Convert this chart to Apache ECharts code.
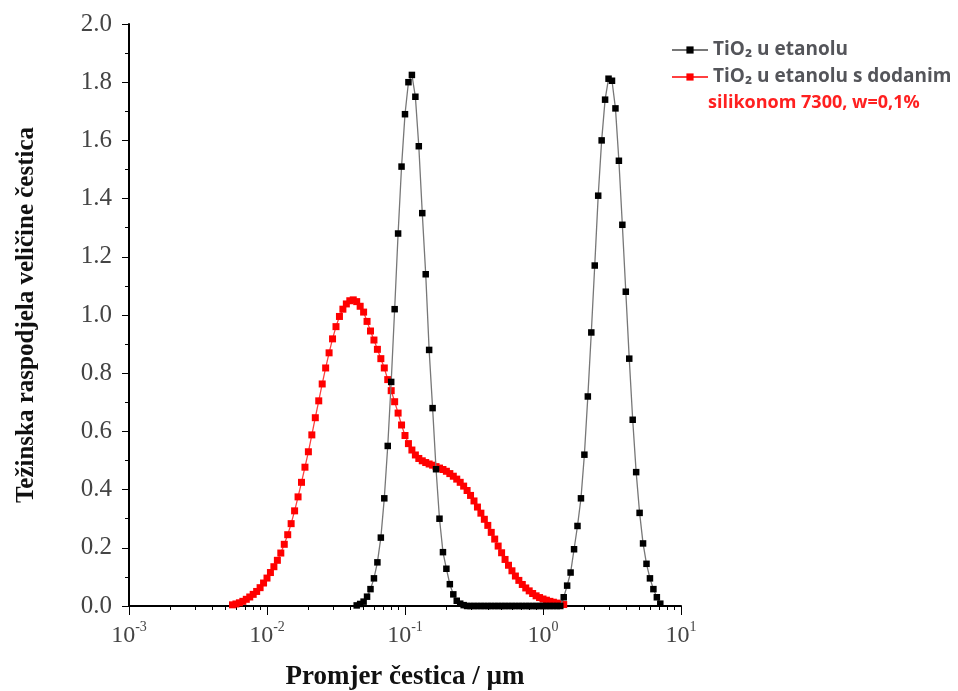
<!DOCTYPE html>
<html>
<head>
<meta charset="utf-8">
<title>Raspodjela veličine čestica TiO2</title>
<script src="https://cdn.jsdelivr.net/npm/echarts@6/dist/echarts.min.js"></script>
<style>
  html, body { margin: 0; padding: 0; background: #fff; }
  #chart { width: 958px; height: 691px; }
</style>
</head>
<body>
<div id="chart"></div>
<script>
// particle size bins (µm), shared by both measurements
const sizes = [
  0.005623, 0.005957, 0.006310, 0.006683, 0.007079, 0.007499, 0.007943, 0.008414, 0.008913, 0.009441,
  0.01000, 0.01059, 0.01122, 0.01189, 0.01259, 0.01334, 0.01413, 0.01496, 0.01585, 0.01679,
  0.01778, 0.01884, 0.01995, 0.02113, 0.02239, 0.02371, 0.02512, 0.02661, 0.02818, 0.02985,
  0.03162, 0.03350, 0.03548, 0.03758, 0.03981, 0.04217, 0.04467, 0.04732, 0.05012, 0.05309,
  0.05623, 0.05957, 0.06310, 0.06683, 0.07079, 0.07499, 0.07943, 0.08414, 0.08913, 0.09441,
  0.1000, 0.1059, 0.1122, 0.1189, 0.1259, 0.1334, 0.1413, 0.1496, 0.1585, 0.1679,
  0.1778, 0.1884, 0.1995, 0.2113, 0.2239, 0.2371, 0.2512, 0.2661, 0.2818, 0.2985,
  0.3162, 0.3350, 0.3548, 0.3758, 0.3981, 0.4217, 0.4467, 0.4732, 0.5012, 0.5309,
  0.5623, 0.5957, 0.6310, 0.6683, 0.7079, 0.7499, 0.7943, 0.8414, 0.8913, 0.9441,
  1.000, 1.059, 1.122, 1.189, 1.259, 1.334, 1.413, 1.496, 1.585, 1.679,
  1.778, 1.884, 1.995, 2.113, 2.239, 2.371, 2.512, 2.661, 2.818, 2.985,
  3.162, 3.350, 3.548, 3.758, 3.981, 4.217, 4.467, 4.732, 5.012, 5.309,
  5.623, 5.957, 6.310, 6.683, 7.079
]

// TiO2 u etanolu (null = no point)
const tio2Ethanol = [
  null, null, null, null, null, null, null, null, null, null,
  null, null, null, null, null, null, null, null, null, null,
  null, null, null, null, null, null, null, null, null, null,
  null, null, null, null, null, null, 0.002, 0.007, 0.015, 0.032,
  0.058, 0.095, 0.150, 0.235, 0.370, 0.550, 0.770, 1.020, 1.280, 1.510,
  1.690, 1.800, 1.825, 1.750, 1.580, 1.350, 1.140, 0.880, 0.680, 0.470,
  0.300, 0.185, 0.128, 0.075, 0.040, 0.018, 0.008, 0.003, 0, 0,
  0, 0, 0, 0, 0, 0, 0, 0, 0, 0,
  0, 0, 0, 0, 0, 0, 0, 0, 0, 0,
  0, 0, 0, 0, 0, 0, 0.030, 0.070, 0.115, 0.195,
  0.275, 0.370, 0.520, 0.720, 0.940, 1.170, 1.410, 1.600, 1.740, 1.812,
  1.805, 1.710, 1.530, 1.310, 1.080, 0.850, 0.640, 0.460, 0.320, 0.215,
  0.145, 0.095, 0.058, 0.030, 0.008
]

// TiO2 u etanolu s dodanim silikonom 7300, w=0,1%
const tio2Silicone = [
  0.004, 0.007, 0.011, 0.016, 0.023, 0.031, 0.040, 0.050, 0.063, 0.079,
  0.096, 0.115, 0.135, 0.157, 0.182, 0.212, 0.245, 0.283, 0.327, 0.375,
  0.425, 0.477, 0.530, 0.588, 0.647, 0.705, 0.763, 0.818, 0.870, 0.918,
  0.960, 0.995, 1.020, 1.038, 1.049, 1.052, 1.046, 1.030, 1.010, 0.978,
  0.945, 0.914, 0.882, 0.850, 0.818, 0.778, 0.740, 0.702, 0.663, 0.622,
  0.586, 0.558, 0.536, 0.519, 0.507, 0.499, 0.493, 0.488, 0.484, 0.479,
  0.474, 0.469, 0.463, 0.455, 0.446, 0.436, 0.425, 0.412, 0.397, 0.380,
  0.361, 0.340, 0.319, 0.298, 0.277, 0.253, 0.230, 0.206, 0.183, 0.160,
  0.140, 0.121, 0.103, 0.088, 0.074, 0.062, 0.052, 0.043, 0.035, 0.029,
  0.024, 0.020, 0.016, 0.013, 0.010, 0.007, 0.005, null, null, null,
  null, null, null, null, null, null, null, null, null, null,
  null, null, null, null, null, null, null, null, null, null,
  null, null, null, null, null
]

const seriesNames = ['TiO\u2082 u etanolu', 'TiO\u2082 u etanolu s dodanim']
const secondLine = 'silikonom 7300, w=0,1%'

const serif = 'Liberation Serif, Times New Roman, serif'
const sans = 'Open Sans, Noto Sans, sans-serif'

function toPairs(values) {
  return sizes.map((s, i) => [s, values[i]]).filter(d => d[1] != null)
}

const chart = echarts.init(document.getElementById('chart'))

const option = {
  animation: false,
  backgroundColor: '#fff',
  grid: { left: 129, top: 24, right: 277, bottom: 85, outerBoundsMode: 'none' },
  legend: {
    data: seriesNames,
    orient: 'vertical',
    left: 666,
    top: 34,
    itemWidth: 36,
    itemHeight: 9,
    itemGap: 5,
    textStyle: { fontFamily: sans, fontSize: 19, fontWeight: 'bold', lineHeight: 22 },
  },
  graphic: [
    {
      type: 'text',
      left: 708,
      top: 94,
      style: { text: secondLine, fill: '#ff2020', font: 'bold 18px ' + sans },
    },
  ],
  xAxis: {
    type: 'log',
    logBase: 10,
    min: 0.001,
    max: 10,
    name: 'Promjer čestica / µm',
    nameLocation: 'middle',
    nameGap: 58,
    nameTextStyle: { fontFamily: serif, fontSize: 27, fontWeight: 'bold', color: '#111' },
    axisLine: { lineStyle: { color: '#000', width: 2 } },
    axisTick: { length: 9, lineStyle: { color: '#000', width: 1 } },
    minorTick: { show: true, splitNumber: 9, length: 4, lineStyle: { color: '#000', width: 1 } },
    splitLine: { show: false },
    minorSplitLine: { show: false },
    axisLabel: {
      margin: 14,
      formatter: v => '{b|10}{s|' + Math.round(Math.log10(v)) + '}',
      rich: {
        b: { fontFamily: serif, fontSize: 24, color: '#444', lineHeight: 28, verticalAlign: 'bottom' },
        s: { fontFamily: serif, fontSize: 14, color: '#444', lineHeight: 28, verticalAlign: 'top' },
      },
    },
  },
  yAxis: {
    type: 'value',
    min: 0,
    max: 2,
    interval: 0.2,
    name: 'Težinska raspodjela veličine čestica',
    nameLocation: 'middle',
    nameGap: 90,
    nameTextStyle: { fontFamily: serif, fontSize: 25, fontWeight: 'bold', color: '#111' },
    axisLine: { show: true, lineStyle: { color: '#000', width: 2 } },
    axisTick: { length: 7, lineStyle: { color: '#000', width: 1 } },
    minorTick: { show: true, splitNumber: 2, length: 4, lineStyle: { color: '#000', width: 1 } },
    splitLine: { show: false },
    axisLabel: {
      margin: 17,
      fontFamily: serif,
      fontSize: 25,
      color: '#444',
      formatter: v => v.toFixed(1),
    },
  },
  series: [
    {
      name: seriesNames[0],
      type: 'line',
      data: toPairs(tio2Ethanol),
      z: 3,
      symbol: 'rect',
      symbolSize: 6.5,
      itemStyle: { color: '#000' },
      lineStyle: { color: '#777', width: 1.3 },
    },
    {
      name: seriesNames[1],
      type: 'line',
      data: toPairs(tio2Silicone),
      z: 2,
      symbol: 'rect',
      symbolSize: 7,
      itemStyle: { color: '#ff0000' },
      lineStyle: { color: '#ff4040', width: 1.3 },
    },
  ],
}

chart.setOption(option)
</script>
</body>
</html>
